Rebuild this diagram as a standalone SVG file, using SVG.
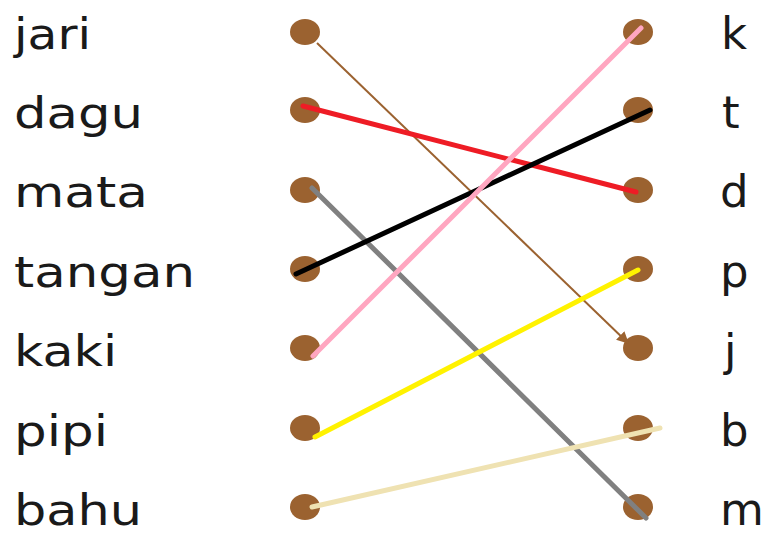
<svg xmlns="http://www.w3.org/2000/svg" width="776" height="538" viewBox="0 0 776 538">
<style>
.w{font-family:"DejaVu Sans","Liberation Sans",sans-serif;font-size:43px;fill:#1a1a1a}
.r{font-size:45px}
.dot{fill:#9B6230}
.c{fill:none;stroke-width:5;stroke-linecap:round}
</style>
<defs>
<marker id="ah" viewBox="0 0 10 10" refX="9" refY="5" markerWidth="6" markerHeight="6" orient="auto" markerUnits="strokeWidth">
<path d="M0,0 L10,5 L0,10 z" fill="#9B6230"/>
</marker>
</defs>
<rect width="776" height="538" fill="#fff"/>
<g id="left-jari"><text class="w" x="14" y="49" textLength="77" lengthAdjust="spacingAndGlyphs">jari</text><ellipse class="dot" cx="305" cy="32" rx="15" ry="13"/></g>
<g id="left-dagu"><text class="w" x="14" y="128" textLength="129" lengthAdjust="spacingAndGlyphs">dagu</text><ellipse class="dot" cx="305" cy="110" rx="15" ry="13"/></g>
<g id="left-mata"><text class="w" x="14" y="207" textLength="134" lengthAdjust="spacingAndGlyphs">mata</text><ellipse class="dot" cx="305" cy="190" rx="15" ry="13"/></g>
<g id="left-tangan"><text class="w" x="14" y="287" textLength="181" lengthAdjust="spacingAndGlyphs">tangan</text><ellipse class="dot" cx="305" cy="269" rx="15" ry="13"/></g>
<g id="left-kaki"><text class="w" x="14" y="366" textLength="103" lengthAdjust="spacingAndGlyphs">kaki</text><ellipse class="dot" cx="305" cy="348" rx="15" ry="13"/></g>
<g id="left-pipi"><text class="w" x="14" y="446" textLength="94" lengthAdjust="spacingAndGlyphs">pipi</text><ellipse class="dot" cx="305" cy="428" rx="15" ry="13"/></g>
<g id="left-bahu"><text class="w" x="14" y="525" textLength="128" lengthAdjust="spacingAndGlyphs">bahu</text><ellipse class="dot" cx="305" cy="507" rx="15" ry="13"/></g>

<g id="right-k"><ellipse class="dot" cx="638" cy="32" rx="15" ry="13"/><text class="w r" x="721" y="49">k</text></g>
<g id="right-t"><ellipse class="dot" cx="638" cy="110" rx="15" ry="13"/><text class="w r" x="722" y="128">t</text></g>
<g id="right-d"><ellipse class="dot" cx="638" cy="190" rx="15" ry="13"/><text class="w r" x="720" y="207">d</text></g>
<g id="right-p"><ellipse class="dot" cx="638" cy="269" rx="15" ry="13"/><text class="w r" x="720" y="287">p</text></g>
<g id="right-j"><ellipse class="dot" cx="638" cy="348" rx="15" ry="13"/><text class="w r" x="724" y="366">j</text></g>
<g id="right-b"><ellipse class="dot" cx="638" cy="428" rx="15" ry="13"/><text class="w r" x="720" y="446">b</text></g>
<g id="right-m"><ellipse class="dot" cx="638" cy="507" rx="15" ry="13"/><text class="w r" x="720" y="525">m</text></g>

<g id="connectors">
<line x1="317" y1="43" x2="628" y2="343" stroke="#9B6230" stroke-width="2" marker-end="url(#ah)"/>
<line class="c" x1="303" y1="106" x2="636" y2="192" stroke="#EE1C25"/>
<line class="c" x1="312" y1="188" x2="646" y2="518" stroke="#808080"/>
<line class="c" x1="296" y1="274" x2="650" y2="110" stroke="#000"/>
<line class="c" x1="313" y1="356" x2="641" y2="28" stroke="#FFA6C0"/>
<line class="c" x1="315" y1="437" x2="638" y2="270" stroke="#FFF200"/>
<line class="c" x1="312" y1="507" x2="660" y2="428" stroke="#EFE2B2"/>
</g>
</svg>
